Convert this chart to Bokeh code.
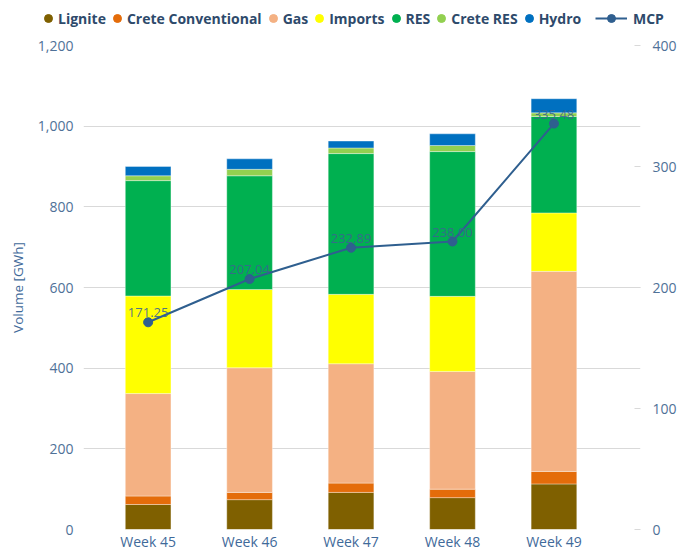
from bokeh.plotting import figure
from bokeh.layouts import column
from bokeh.models import (Range1d, LinearAxis, FixedTicker, NumeralTickFormatter,
                          Legend, LegendItem, ColumnDataSource)
from bokeh.core.properties import value
from bokeh.embed import file_html
from bokeh.resources import INLINE

weeks = ["Week 45", "Week 46", "Week 47", "Week 48", "Week 49"]
lignite = [62, 74, 92, 79, 113]
crete_conventional = [21, 18, 23, 21, 31]
gas = [254, 309, 296, 292, 496]
imports = [242, 194, 172, 186, 145]
res = [286, 282, 349, 359, 239]
crete_res = [12, 16, 14, 15, 9]
hydro = [23, 26, 17, 29, 35]
mcp = [171.25, 207.04, 232.89, 238.00, 335.48]

series_names = ["Lignite", "Crete Conventional", "Gas", "Imports", "RES", "Crete RES", "Hydro"]
colors = ["#7F6000", "#E46C0A", "#F4B183", "#FFFF00", "#00B050", "#92D050", "#0070C0"]
left_ticks = [0, 200, 400, 600, 800, 1000, 1200]
right_ticks = [0, 100, 200, 300, 400]

FONT = "Open Sans"
AX = "#4f7198"
LINE = "#2F5F8F"

pos = list(range(len(weeks)))
data = dict(x=pos, Lignite=lignite, **{"Crete Conventional": crete_conventional},
            Gas=gas, Imports=imports, RES=res, **{"Crete RES": crete_res}, Hydro=hydro,
            mcp=mcp, mcp_label=[f"{v:.2f}" for v in mcp])
src = ColumnDataSource(data)

# ---------------- legend strip (its own small plot; data lies outside its ranges) --------
lf = figure(width=679, height=30, output_backend="svg", toolbar_location=None,
            x_axis_type=None, y_axis_type=None, x_range=Range1d(100, 101), y_range=Range1d(-2, -1),
            min_border_left=0, min_border_right=0, min_border_top=0, min_border_bottom=0)
lf.frame_align = False
lf.outline_line_color = None
lf.xgrid.grid_line_color = None
lf.ygrid.grid_line_color = None

items = []
for name, c in zip(series_names, colors):
    r = lf.scatter(x="x", y=name, source=src, marker="circle", size=9, fill_color=c, line_color=c)
    items.append(LegendItem(label=name, renderers=[r]))
ml = lf.line(x="x", y="mcp", source=src, color=LINE, line_width=2)
ms = lf.scatter(x="x", y="mcp", source=src, marker="circle", size=9, fill_color=LINE, line_color=LINE)

common = dict(orientation="horizontal", label_text_font=FONT, label_text_font_size="14px",
              label_text_font_style="bold", label_text_color="#2e4a6b", glyph_height=20,
              padding=0, margin=0, background_fill_alpha=0, border_line_color=None,
              label_height=20)
leg1 = Legend(items=items, location=(38, 2), glyph_width=20, label_standoff=-4, spacing=1,
              **common)
leg2 = Legend(items=[LegendItem(label="MCP", renderers=[ml, ms])], location=(595, 2),
              glyph_width=32, label_standoff=6, spacing=0, **common)
lf.add_layout(leg1, "center")
lf.add_layout(leg2, "center")

# ---------------- main chart ----------------
p = figure(width=679, height=523, output_backend="svg", toolbar_location=None,
           x_range=Range1d(-0.637, 4.853), y_range=Range1d(0, 1200),
           min_border_left=83, min_border_right=36, min_border_top=15, min_border_bottom=24)
p.frame_align = False
p.outline_line_color = None
p.extra_y_ranges = {"mcp": Range1d(0, 400)}

p.vbar_stack(series_names, x="x", width=0.45, color=colors, source=src,
             line_color="white", line_width=0.6, line_alpha=0.6)

p.line("x", "mcp", source=src, y_range_name="mcp", color=LINE, line_width=2)
p.scatter("x", "mcp", source=src, y_range_name="mcp", marker="circle", size=9,
          fill_color=LINE, line_color=LINE)
p.text("x", "mcp", text="mcp_label", source=src, y_range_name="mcp",
       text_font=value(FONT), text_font_size="13px", text_color="#3b6591", text_alpha=0.9,
       text_align="center", text_baseline="bottom", y_offset=-5)

p.xaxis.ticker = FixedTicker(ticks=pos)
p.xaxis.major_label_overrides = {i: w for i, w in enumerate(weeks)}
p.xaxis.axis_line_color = None
p.xaxis.major_tick_line_color = None
p.xaxis.major_tick_out = 0
p.xaxis.major_tick_in = 0
p.xaxis.minor_tick_line_color = None
p.xaxis.minor_tick_out = 0
p.xaxis.major_label_standoff = 2
p.xaxis.major_label_text_font = FONT
p.xaxis.major_label_text_font_size = "14px"
p.xaxis.major_label_text_color = "#3f6a9a"

p.yaxis.ticker = FixedTicker(ticks=left_ticks)
p.yaxis.formatter = NumeralTickFormatter(format="0,0")
p.yaxis.axis_line_color = None
p.yaxis.major_tick_line_color = None
p.yaxis.major_tick_out = 0
p.yaxis.major_tick_in = 0
p.yaxis.minor_tick_line_color = None
p.yaxis.minor_tick_out = 0
p.yaxis.major_label_standoff = 10
p.yaxis.major_label_text_font = FONT
p.yaxis.major_label_text_font_size = "14px"
p.yaxis.major_label_text_color = AX
p.yaxis.axis_label = "Volume [GWh]"
p.yaxis.axis_label_text_font = FONT
p.yaxis.axis_label_text_font_size = "13.5px"
p.yaxis.axis_label_text_font_style = "normal"
p.yaxis.axis_label_text_color = "#3f6a9a"
p.yaxis.axis_label_standoff = 8

ra = LinearAxis(y_range_name="mcp", ticker=FixedTicker(ticks=right_ticks))
ra.axis_line_color = None
ra.major_tick_in = 6
ra.major_tick_out = 0
ra.major_tick_line_color = "#d9d9d9"
ra.minor_tick_line_color = None
ra.minor_tick_out = 0
ra.major_label_standoff = 12
ra.major_label_text_font = FONT
ra.major_label_text_font_size = "14px"
ra.major_label_text_color = AX
p.add_layout(ra, "right")

p.xgrid.grid_line_color = None
p.ygrid.grid_line_color = "#d9d9d9"
p.ygrid.grid_line_width = 1

layout = column(lf, p, spacing=0)
open("out.html", "w").write(file_html(layout, INLINE))
